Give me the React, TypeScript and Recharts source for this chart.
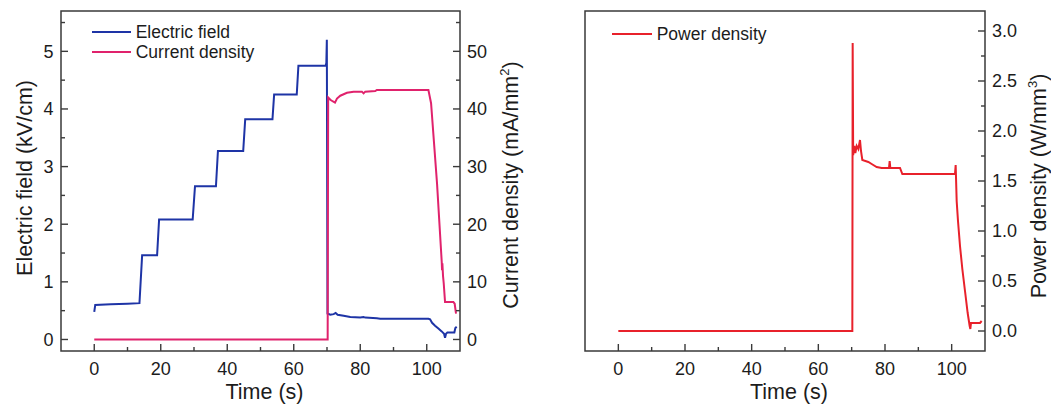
import React from 'react';
import { LineChart, Line, XAxis, YAxis, ReferenceArea, Legend, Label } from 'recharts';

const FONT = '"Liberation Sans", Arial, Helvetica, sans-serif';
const TEXT = '#1c1c1c';
const AXIS = '#3a3a3a';
const BLUE = '#1e34a6';
const PINK = '#e0226c';
const RED = '#e8212b';

// ---- data ----
const efTime = [0, 0.3, 5, 10, 13.6, 14.4, 18.9, 19.5, 29.6, 30.3, 36.6, 37.2, 44.8, 45.4, 53.6, 54.1, 60.9, 61.4, 69.6, 69.8, 69.95, 70.15, 71.0, 72.0, 72.6, 73.2, 75, 77, 80, 81, 81.5, 85, 86, 100.5, 101, 101.6, 102.5, 103.5, 104.5, 105.2, 105.5, 105.8, 106.2, 108.3, 108.6, 109];
const efValues = [0.48, 0.6, 0.61, 0.62, 0.63, 1.46, 1.46, 2.08, 2.08, 2.66, 2.66, 3.27, 3.27, 3.82, 3.82, 4.25, 4.25, 4.75, 4.75, 4.8, 5.2, 0.45, 0.43, 0.44, 0.46, 0.43, 0.41, 0.39, 0.38, 0.39, 0.38, 0.37, 0.36, 0.36, 0.35, 0.29, 0.24, 0.19, 0.14, 0.1, 0.03, 0.1, 0.12, 0.12, 0.2, 0.22];

const jTime = [0, 70.2, 70.35, 71, 71.8, 72.4, 73, 74, 76, 78, 80.5, 81, 81.5, 84.5, 85, 100.5, 101.3, 103.1, 104.5, 104.6, 104.7, 104.9, 105.1, 105.5, 108.0, 108.4, 108.8];
const jValues = [0, 0, 42, 41.6, 41.3, 41.1, 41.8, 42.3, 42.8, 43, 43, 42.7, 43, 43.1, 43.3, 43.3, 41, 27, 13.5, 12, 13.2, 11, 9.8, 6.5, 6.5, 6.2, 4.5];

const pTime = [0, 70.2, 70.3, 70.45, 70.8, 71.1, 71.5, 72, 72.5, 72.8, 73.2, 75, 76, 77.5, 79, 81.2, 81.4, 81.6, 84.5, 85.2, 101.0, 101.2, 101.5, 101.9, 102.5, 103.2, 104, 104.8, 105.4, 105.6, 105.8, 108.5, 109];
const pValues = [0, 0, 2.88, 1.76, 1.85, 1.78, 1.85, 1.82, 1.91, 1.8, 1.71, 1.69, 1.67, 1.64, 1.63, 1.63, 1.7, 1.63, 1.63, 1.57, 1.57, 1.66, 1.3, 1.1, 0.85, 0.62, 0.4, 0.18, 0.05, 0.02, 0.08, 0.08, 0.1];

const leftLegendOrder = ['Electric field', 'Current density'];
const rightLegendOrder = ['Power density'];

const timeTicks = [0, 10, 20, 30, 40, 50, 60, 70, 80, 90, 100];
const timeMajor = [0, 20, 40, 60, 80, 100];
const efTicks = [0, 0.5, 1, 1.5, 2, 2.5, 3, 3.5, 4, 4.5, 5, 5.5];
const efMajor = [0, 1, 2, 3, 4, 5];
const jTicks = [0, 5, 10, 15, 20, 25, 30, 35, 40, 45, 50, 55];
const jMajor = [0, 10, 20, 30, 40, 50];
const pTicks = [0, 0.25, 0.5, 0.75, 1, 1.25, 1.5, 1.75, 2, 2.25, 2.5, 2.75, 3];
const pMajor = [0, 0.5, 1, 1.5, 2, 2.5, 3];

const toSeries = (ts: number[], vs: number[]) => ts.map((t, i) => ({ t, v: vs[i] }));
const efData = toSeries(efTime, efValues);
const jData = toSeries(jTime, jValues);
const pData = toSeries(pTime, pValues);

const isIn = (arr: number[], v: number) => arr.some((m) => Math.abs(m - v) < 1e-9);

const makeTick = (orient: 'left' | 'right' | 'bottom', majors: number[], fmt: (v: number) => string) =>
  (props: any) => {
    const { x, y, payload } = props;
    const v = payload.value;
    const major = isIn(majors, v);
    const len = major ? 7 : 4;
    if (orient === 'left') {
      return (
        <g>
          <line x1={x} y1={y} x2={x + len} y2={y} stroke={AXIS} strokeWidth={1.4} />
          {major && (
            <text x={x - 7.5} y={y} dy={6.4} textAnchor="end" fontSize={18} fill={TEXT} fontFamily={FONT}>{fmt(v)}</text>
          )}
        </g>
      );
    }
    if (orient === 'right') {
      return (
        <g>
          <line x1={x} y1={y} x2={x - len} y2={y} stroke={AXIS} strokeWidth={1.4} />
          {major && (
            <text x={x + 7} y={y} dy={6.4} textAnchor="start" fontSize={18} fill={TEXT} fontFamily={FONT}>{fmt(v)}</text>
          )}
        </g>
      );
    }
    return (
      <g>
        <line x1={x} y1={y} x2={x} y2={y - len} stroke={AXIS} strokeWidth={1.4} />
        {major && (
          <text x={x} y={y + 24} textAnchor="middle" fontSize={18} fill={TEXT} fontFamily={FONT}>{fmt(v)}</text>
        )}
      </g>
    );
  };

const intFmt = (v: number) => String(v);
const oneDec = (v: number) => v.toFixed(1);

const xTitle = (props: any) => {
  const vb = props.viewBox || {};
  return (
    <text x={vb.x + vb.width / 2 + 4} y={vb.y + 48} textAnchor="middle" fontSize={21.5} fill={TEXT} fontFamily={FONT}>Time (s)</text>
  );
};

const yTitle = (main: string, sup: string | null, dx: number, dy: number) => (props: any) => {
  const vb = props.viewBox || {};
  const x = vb.x + dx;
  const y = vb.y + vb.height / 2 + dy;
  return (
    <text x={x} y={y} transform={`rotate(-90 ${x} ${y})`} textAnchor="middle" fontSize={21.5} fill={TEXT} fontFamily={FONT}>
      {sup ? (
        <>
          <tspan>{main}</tspan>
          <tspan dy={-9} fontSize={13}>{sup}</tspan>
          <tspan dy={9}>)</tspan>
        </>
      ) : (
        main
      )}
    </text>
  );
};

const legendContent = (lineLen: number, order: string[]) => (props: any) => {
  const items = [...(props.payload || [])].sort(
    (a: any, b: any) => order.indexOf(a.value) - order.indexOf(b.value)
  );
  return (
    <div style={{ fontFamily: FONT }}>
      {items.map((it: any, i: number) => (
        <div key={i} style={{ display: 'flex', alignItems: 'center', height: 20.6 }}>
          <svg width={lineLen} height={4} style={{ display: 'block', marginRight: 5 }}>
            <line x1={0} y1={2} x2={lineLen} y2={2} stroke={it.color} strokeWidth={2} />
          </svg>
          <span style={{ fontSize: 17.5, color: TEXT, lineHeight: '20px', whiteSpace: 'nowrap' }}>{it.value}</span>
        </div>
      ))}
    </div>
  );
};

export default function App() {
  return (
    <div style={{ position: 'absolute', left: 0, top: 0, width: 1051, height: 406, background: '#fff', fontFamily: FONT }}>
      <div style={{ position: 'absolute', left: 0, top: 0 }}>
        <LineChart width={540} height={406} margin={{ top: 11, right: 10, bottom: 0, left: 10 }}>
          <XAxis type="number" dataKey="t" domain={[-10, 110]} ticks={timeTicks} interval={0} allowDataOverflow
            tickLine={false} axisLine={false} tickSize={0} tickMargin={0} height={55}
            tick={makeTick('bottom', timeMajor, intFmt)}>
            <Label content={xTitle} />
          </XAxis>
          <YAxis yAxisId="ef" orientation="left" type="number" domain={[-0.2, 5.7]} ticks={efTicks} interval={0} allowDataOverflow
            tickLine={false} axisLine={false} tickSize={0} tickMargin={0} width={51}
            tick={makeTick('left', efMajor, intFmt)}>
            <Label content={yTitle('Electric field (kV/cm)', null, 21.5, -3)} />
          </YAxis>
          <YAxis yAxisId="j" orientation="right" type="number" domain={[-2, 57]} ticks={jTicks} interval={0} allowDataOverflow
            tickLine={false} axisLine={false} tickSize={0} tickMargin={0} width={70}
            tick={makeTick('right', jMajor, intFmt)}>
            <Label content={yTitle('Current density (mA/mm', '2', 58, 4)} />
          </YAxis>
          <ReferenceArea yAxisId="ef" x1={-10} x2={110} y1={-0.2} y2={5.7} fill="none" fillOpacity={0} stroke={AXIS} strokeWidth={1.5} />
          <Line yAxisId="ef" data={efData} dataKey="v" name="Electric field" type="linear" stroke={BLUE} strokeWidth={2} dot={false} isAnimationActive={false} />
          <Line yAxisId="j" data={jData} dataKey="v" name="Current density" type="linear" stroke={PINK} strokeWidth={2} dot={false} isAnimationActive={false} />
          <Legend layout="vertical" align="center" verticalAlign="middle" content={legendContent(39, leftLegendOrder)}
            wrapperStyle={{ left: 91.7, top: 21.4, width: 200, height: 45 }} />
        </LineChart>
      </div>
      <div style={{ position: 'absolute', left: 540, top: 0 }}>
        <LineChart width={511} height={406} margin={{ top: 11, right: 10, bottom: 0, left: 45 }}>
          <XAxis type="number" dataKey="t" domain={[-10, 110]} ticks={timeTicks} interval={0} allowDataOverflow
            tickLine={false} axisLine={false} tickSize={0} tickMargin={0} height={55}
            tick={makeTick('bottom', timeMajor, intFmt)}>
            <Label content={xTitle} />
          </XAxis>
          <YAxis yAxisId="p" orientation="right" type="number" domain={[-0.2, 3.2]} ticks={pTicks} interval={0} allowDataOverflow
            tickLine={false} axisLine={false} tickSize={0} tickMargin={0} width={56}
            tick={makeTick('right', pMajor, oneDec)}>
            <Label content={yTitle('Power density (W/mm', '3', 61, 5)} />
          </YAxis>
          <ReferenceArea yAxisId="p" x1={-10} x2={110} y1={-0.2} y2={3.2} fill="none" fillOpacity={0} stroke={AXIS} strokeWidth={1.5} />
          <Line yAxisId="p" data={pData} dataKey="v" name="Power density" type="linear" stroke={RED} strokeWidth={2} dot={false} isAnimationActive={false} />
          <Legend layout="vertical" align="center" verticalAlign="middle" content={legendContent(40, rightLegendOrder)}
            wrapperStyle={{ left: 71.7, top: 23.7, width: 200, height: 25 }} />
        </LineChart>
      </div>
    </div>
  );
}
